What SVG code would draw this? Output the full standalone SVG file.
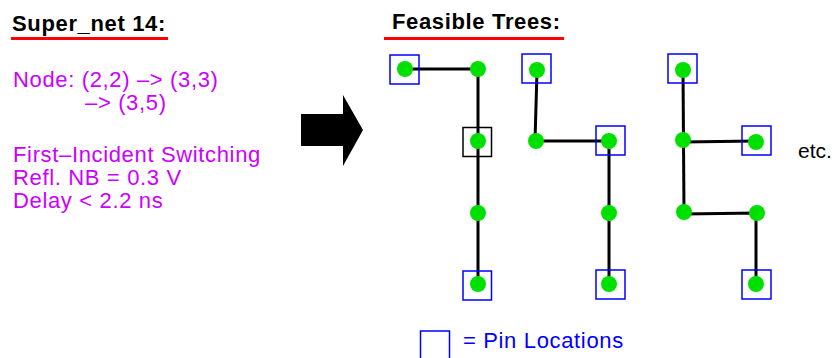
<svg xmlns="http://www.w3.org/2000/svg" width="835" height="358" viewBox="0 0 835 358">
<style>
.title{font-family:"Liberation Sans",Arial,sans-serif;font-weight:bold;font-size:22px;letter-spacing:0.65px;fill:#000}
.ul{stroke:#ff0000;stroke-width:3}
.mag{font-family:"Liberation Sans",Arial,sans-serif;font-size:22px;letter-spacing:0.65px;fill:#cc00ff}
.dot{fill:#00e000}
.pin{fill:none;stroke:#0000ff;stroke-width:1.5}
.box{fill:none;stroke:#000;stroke-width:1.5}
.wire{fill:none;stroke:#000;stroke-width:3;stroke-linejoin:miter}
.lbl{font-family:"Liberation Sans",Arial,sans-serif;font-size:21px;fill:#000}
.leg{font-family:"Liberation Sans",Arial,sans-serif;font-size:22px;letter-spacing:0.65px;fill:#0000ff}
</style>
<rect width="835" height="358" fill="#fff"/>
<g id="header-left">
<text class="title" x="12" y="31">Super_net 14:</text>
<line class="ul" x1="11" y1="38.5" x2="168" y2="38.5"/>
</g>
<g id="header-right">
<text class="title" x="392" y="29">Feasible Trees:</text>
<line class="ul" x1="384" y1="38.5" x2="564" y2="38.5"/>
</g>
<g id="spec">
<text class="mag" x="13" y="87">Node: (2,2) –&gt; (3,3)</text>
<text class="mag" x="85" y="110">–&gt; (3,5)</text>
<text class="mag" x="13" y="162">First–Incident Switching</text>
<text class="mag" x="13" y="185">Refl. NB = 0.3 V</text>
<text class="mag" x="13" y="208">Delay &lt; 2.2 ns</text>
</g>
<g id="arrow">
<polygon points="301,114 343,114 343,95 363,130 343,166 343,146 301,146" fill="#000"/>
</g>
<g id="connectors">
<polyline class="wire" points="405,69 478,69 478,283"/>
<polyline class="wire" points="537,71 535,141 609,141 609,283"/>
<polyline class="wire" points="683,70 684,213"/>
<polyline class="wire" points="683,142 756,141"/>
<polyline class="wire" points="684,214 756,213 756,283"/>
</g>
<g id="t1-n1"><circle class="dot" cx="405" cy="69" r="8"/><rect class="pin" x="390" y="55" width="29" height="29"/></g>
<g id="t1-n2"><circle class="dot" cx="478" cy="69" r="8"/></g>
<g id="t1-n3"><circle class="dot" cx="478" cy="141" r="8"/><rect class="box" x="463" y="127.5" width="28.5" height="29"/></g>
<g id="t1-n4"><circle class="dot" cx="478" cy="213" r="8"/></g>
<g id="t1-n5"><circle class="dot" cx="478" cy="284" r="8"/><rect class="pin" x="463" y="271" width="28.5" height="29"/></g>
<g id="t2-n1"><circle class="dot" cx="537" cy="70" r="8"/><rect class="pin" x="522" y="54" width="29" height="29"/></g>
<g id="t2-n2"><circle class="dot" cx="536" cy="141" r="8"/></g>
<g id="t2-n3"><circle class="dot" cx="609" cy="141" r="8"/><rect class="pin" x="596" y="126" width="29" height="29"/></g>
<g id="t2-n4"><circle class="dot" cx="609" cy="213" r="8"/></g>
<g id="t2-n5"><circle class="dot" cx="609" cy="284" r="8"/><rect class="pin" x="596" y="270" width="29" height="29"/></g>
<g id="t3-n1"><circle class="dot" cx="683" cy="70" r="8"/><rect class="pin" x="668" y="54" width="29" height="29"/></g>
<g id="t3-n2"><circle class="dot" cx="683" cy="140" r="8"/></g>
<g id="t3-n3"><circle class="dot" cx="756" cy="142" r="8"/><rect class="pin" x="742" y="126" width="29" height="29"/></g>
<g id="t3-n4"><circle class="dot" cx="684" cy="212" r="8"/></g>
<g id="t3-n5"><circle class="dot" cx="757" cy="213" r="8"/></g>
<g id="t3-n6"><circle class="dot" cx="756" cy="284" r="8"/><rect class="pin" x="742" y="270" width="29" height="29"/></g>
<text class="lbl" x="798" y="158">etc.</text>
<g id="legend">
<rect class="pin" x="420.5" y="331" width="29" height="29"/>
<text class="leg" x="463" y="348">= Pin Locations</text>
</g>
</svg>
